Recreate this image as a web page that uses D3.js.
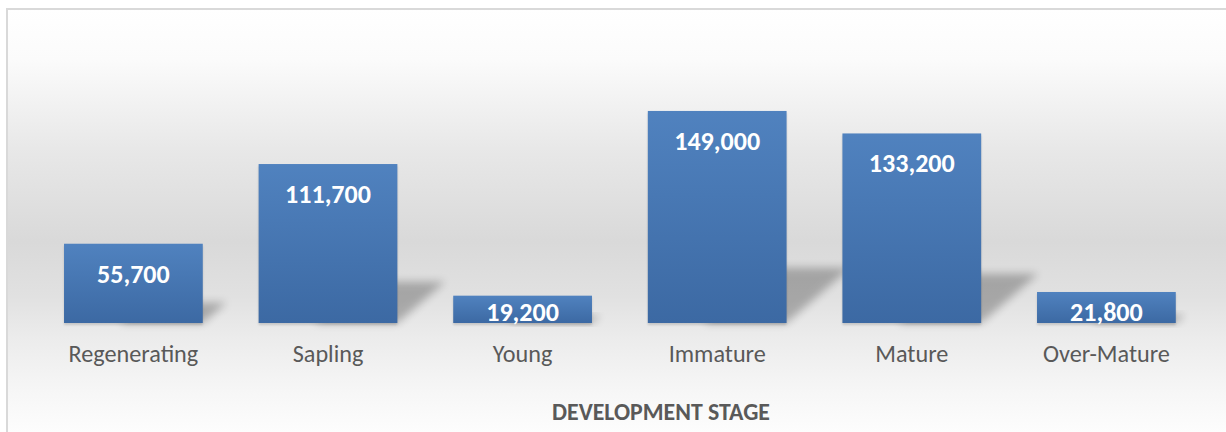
<!DOCTYPE html>
<html>
<head>
<meta charset="utf-8">
<script src="https://cdn.jsdelivr.net/npm/d3@7"></script>
<style>
html,body{margin:0;padding:0;background:#fff;overflow:hidden;}
svg{display:block;}
</style>
</head>
<body>
<svg id="chart" width="1226" height="432"></svg>
<script>
const categories = ["Regenerating","Sapling","Young","Immature","Mature","Over-Mature"];
const values = [55700,111700,19200,149000,133200,21800];
const axisTitle = "DEVELOPMENT STAGE";
const yDomain = [0,160000];

const FONT = "Carlito, Calibri, Lato, 'Open Sans', sans-serif";
const svg = d3.select("#chart");
const defs = svg.append("defs");

// background gradient
const bg = defs.append("linearGradient").attr("id","bgGrad")
  .attr("gradientUnits","userSpaceOnUse").attr("x1",0).attr("x2",0).attr("y1",9).attr("y2",432);
[[0,"#ffffff"],[0.12,"#fbfbfb"],[0.33,"#e8e8e8"],[0.55,"#d9d9d9"],[0.68,"#e1e1e1"],[0.78,"#ececec"],[0.9,"#f6f6f6"],[1,"#fdfdfd"]]
  .forEach(([o,c])=>bg.append("stop").attr("offset",o).attr("stop-color",c));

const barGrad = defs.append("linearGradient").attr("id","barGrad").attr("x1",0).attr("x2",0).attr("y1",0).attr("y2",1);
barGrad.append("stop").attr("offset",0).attr("stop-color","#5082bf");
barGrad.append("stop").attr("offset",1).attr("stop-color","#3c69a3");

const blur = defs.append("filter").attr("id","blur").attr("x","-50%").attr("y","-50%").attr("width","200%").attr("height","200%");
blur.append("feGaussianBlur").attr("stdDeviation",4);
const blurS = defs.append("filter").attr("id","blurS").attr("x","-20%").attr("y","-50%").attr("width","140%").attr("height","200%");
blurS.append("feGaussianBlur").attr("stdDeviation",1.2);

// chart area
svg.append("rect").attr("x",7).attr("y",9).attr("width",1240).attr("height",440)
  .attr("fill","url(#bgGrad)").attr("stroke","#d9d9d9").attr("stroke-width",2);

const x = d3.scaleBand().domain(categories).range([36.1,1203.7]).paddingInner(0.287).paddingOuter(0.1435);
const y = d3.scaleLinear().domain(yDomain).range([323,95.3]);

const data = categories.map((c,i)=>({c, v: values[i]}));

// perspective shadows
svg.append("g").selectAll("path").data(data).join("path")
  .attr("d", d=>{
    const x0 = x(d.c)+x.bandwidth()*0.4, x1 = x(d.c)+x.bandwidth();
    const b = y(0), h = y(0)-y(d.v);
    const dx = h*0.3, dy = h*0.26;
    return `M${x0},${b} L${x1},${b} L${x1+dx},${b-dy} L${x0+dx},${b-dy} Z`;
  })
  .attr("fill","#000").attr("opacity",0.26).attr("filter","url(#blur)");

// slight bottom shadow
svg.append("g").selectAll("rect").data(data).join("rect")
  .attr("x",d=>x(d.c)).attr("y",d=>y(d.v)+2).attr("width",x.bandwidth()).attr("height",d=>y(0)-y(d.v))
  .attr("fill","#000").attr("opacity",0.15).attr("filter","url(#blurS)");

// bars
svg.append("g").selectAll("rect").data(data).join("rect")
  .attr("x",d=>x(d.c)).attr("y",d=>y(d.v)).attr("width",x.bandwidth()).attr("height",d=>y(0)-y(d.v))
  .attr("fill","url(#barGrad)");

// fit helper: scale font size so that a reference string reaches a target width
function fitSize(text, weight, base, target){
  const t = svg.append("text").attr("font-family",FONT).attr("font-weight",weight).attr("font-size",base).text(text);
  const w = t.node().getComputedTextLength();
  t.remove();
  return w>0 ? base*target/w : base;
}
const labelSize = fitSize("149,000","bold",26,86);
const catSize = fitSize("Over-Mature","normal",24,127);
const titleSize = fitSize(axisTitle,"bold",23,218);

// data labels
svg.append("g").selectAll("text").data(data).join("text")
  .attr("x",d=>x(d.c)+x.bandwidth()/2)
  .attr("y",d=>Math.min(y(d.v)+39, y(0)-2.5))
  .attr("text-anchor","middle").attr("font-family",FONT).attr("font-weight","bold")
  .attr("font-size",labelSize).attr("fill","#ffffff")
  .text(d=>d3.format(",")(d.v));

// category axis
const xAxis = svg.append("g").attr("transform",`translate(0,${y(0)})`)
  .call(d3.axisBottom(x).tickSize(0).tickPadding(0));
xAxis.select(".domain").remove();
xAxis.selectAll("text").attr("dy",null).attr("y",38.5)
  .attr("font-family",FONT).attr("font-size",catSize).attr("fill","#595959");

// axis title
svg.append("text").attr("x",661).attr("y",419.5).attr("text-anchor","middle")
  .attr("font-family",FONT).attr("font-weight","bold").attr("font-size",titleSize).attr("fill","#595959")
  .text(axisTitle);
</script>
</body>
</html>
